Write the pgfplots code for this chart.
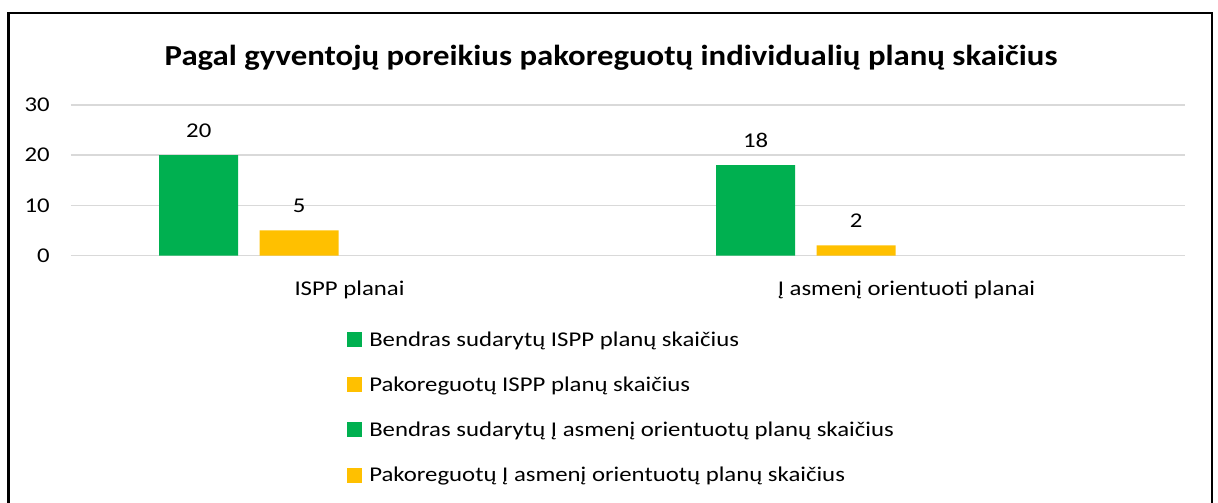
\documentclass[border=0pt]{standalone}
\usepackage{pgfplots}
\pgfplotsset{compat=1.18}
\usepackage{fontspec}
\setmainfont{Carlito}
\newfontfamily\bodyfont[FakeStretch=1.18]{Carlito}
\newfontfamily\titlefont[FakeStretch=1.13]{Carlito}
\definecolor{xgreen}{HTML}{00B050}
\definecolor{xyellow}{HTML}{FFC000}
\definecolor{xgrid}{HTML}{D9D9D9}
\begin{document}
\begin{tikzpicture}
\useasboundingbox (-71pt,-247.5pt) rectangle (1147pt,255.5pt);
\draw[line width=2.5pt, black] (-62.5pt,242.5pt) rectangle (1141pt,-270pt);
\begin{axis}[
  at={(0pt,0pt)}, anchor=south west,
  scale only axis, width=1114pt, height=150.5pt,
  xmin=-0.5, xmax=1.5, ymin=0, ymax=30,
  ytick={0,10,20,30}, xtick={0,1},
  xticklabels={ISPP planai, Į asmenį orientuoti planai},
  ymajorgrids, grid style={xgrid, line width=1.5pt},
  axis line style={draw=none}, major tick length=0pt,
  tick label style={font=\bodyfont\fontsize{21}{25}\selectfont},
  yticklabel style={anchor=east, inner sep=0pt, xshift=-21pt},
  xticklabel style={anchor=base, inner sep=0pt, yshift=-40pt},
  /pgf/number format/assume math mode=true,
  ybar, bar width=79pt,
  clip=false,
  nodes near coords,
  nodes near coords style={anchor=base, inner sep=0pt, yshift=18pt, font=\bodyfont\fontsize{21}{25}\selectfont, black},
  title={Pagal gyventojų poreikius pakoreguotų individualių planų skaičius},
  title style={at={(axis description cs:0.4847,1)}, anchor=base, yshift=33.5pt, inner sep=0pt, font=\titlefont\bfseries\fontsize{29}{33}\selectfont},
  legend style={at={(axis description cs:0.2478,-0.492)}, anchor=north west, draw=none, fill=none, inner sep=0pt, row sep=25pt, column sep=0pt,
    font=\bodyfont\fontsize{21}{25}\selectfont, cells={inner sep=0pt}},
  legend cell align=left,
  legend image code/.code={\fill[#1] (0pt,-7.5pt) rectangle (15pt,7.5pt); \path (20pt,0pt);},
]
\addplot[fill=xgreen, draw=none, bar shift=-150.75pt] coordinates {(0,20) (1,18)};
\addplot[fill=xyellow, draw=none, bar shift=-50.25pt] coordinates {(0,5) (1,2)};
\addlegendentry{Bendras sudarytų ISPP planų skaičius}
\addlegendentry{Pakoreguotų ISPP planų skaičius}
\addlegendimage{fill=xgreen, draw=none}
\addlegendentry{Bendras sudarytų Į asmenį orientuotų planų skaičius}
\addlegendimage{fill=xyellow, draw=none}
\addlegendentry{Pakoreguotų Į asmenį orientuotų planų skaičius}
\end{axis}
\end{tikzpicture}
\end{document}
